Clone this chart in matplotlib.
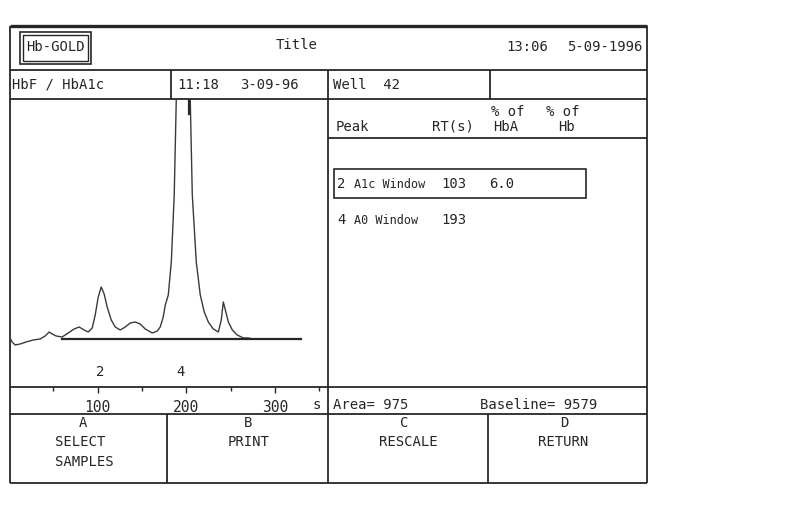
import matplotlib
matplotlib.use('Agg')
import matplotlib.pyplot as plt
from matplotlib.patches import Rectangle

# Chromatogram trace (time in s, signal in screen units above baseline)
time_s = [1, 3.4, 6.8, 12.4, 19.2, 27.1, 35, 40.7, 45.2, 48.6, 53.1, 59.9, 66.7, 73.4,
          79.1, 84.7, 89.3, 93.8, 97.2, 100.6, 104, 107.3, 110.7, 115.3, 119.8, 125.4,
          131.1, 136.7, 142.4, 148, 153.7, 161.6, 167.2, 170.6, 174, 176.3, 179.7, 183.1,
          186.4, 188.7, 196.6, 204.5, 206.8, 211.3, 215.8, 220.3, 224.9, 230.5, 236.2,
          239.5, 241.8, 244.1, 247.5, 252, 257.6, 264.4, 270, 275.7, 283.6]
signal = [1, -3, -6, -5, -3, -1, 0, 3, 7, 5, 3, 2, 6, 10,
          12, 9, 7, 11, 24, 42, 52, 45, 32, 19, 12, 9,
          12, 16, 17, 15, 10, 6, 8, 12, 22, 34, 44, 77,
          144, 239, 560, 239, 144, 77, 44, 27, 17, 10, 7,
          19, 37, 29, 17, 9, 4, 1, 1, 0, 0]

baseline_start, baseline_end = 60, 330
marker_time = 203

peak_numbers = ['2', '4']
peak_names = ['A1c Window', 'A0 Window']
peak_rt = [103, 193]
peak_pct_hba = ['6.0', '']

x_ticks = [100, 200, 300]
x_minor = [50, 150, 250, 350]

area = 975
baseline_value = 9579

W, H = 797, 507
ink = '#262626'
font = 'DejaVu Sans Mono'
fs = 10

fig = plt.figure(figsize=(W / 100, H / 100), dpi=100)
fig.patch.set_facecolor('white')

# overlay in pixel coordinates for the screen frame
bg = fig.add_axes([0, 0, 1, 1])
bg.set_xlim(0, W)
bg.set_ylim(H, 0)
bg.axis('off')

def hline(y, x0, x1, lw=1.3):
    bg.plot([x0, x1], [y, y], color=ink, lw=lw, solid_capstyle='butt')

def vline(x, y0, y1, lw=1.3):
    bg.plot([x, x], [y0, y1], color=ink, lw=lw, solid_capstyle='butt')

def txt(x, y, s, ha='left', size=fs):
    bg.text(x, y, s, ha=ha, va='center', family=font, fontsize=size, color=ink)

L, R, T, B = 10, 647, 26, 483
hline(T, L, R, lw=2.4)
hline(B, L, R)
vline(L, T, B)
vline(R, T, B)
hline(70, L, R)
hline(99, L, R)
hline(387, L, R)
hline(414, L, R)
vline(171, 70, 99)
vline(328, 70, B)
vline(490, 70, 99)
vline(167, 414, B)
vline(488, 414, B)
hline(138, 328, R)

# header
bg.add_patch(Rectangle((20, 32), 71, 32, fill=False, ec=ink, lw=1.2))
bg.add_patch(Rectangle((23, 35), 65, 26, fill=False, ec=ink, lw=1.0))
txt(55.5, 47, 'Hb-GOLD', ha='center')
txt(297, 45, 'Title', ha='center')
txt(506, 47, '13:06')
txt(642, 47, '5-09-1996', ha='right')

# second row
txt(12, 85, 'HbF / HbA1c')
txt(177, 85, '11:18')
txt(240, 85, '3-09-96')
txt(333, 85, 'Well  42')

# peak table
txt(336, 127, 'Peak')
txt(474, 127, 'RT(s)', ha='right')
txt(491, 112, '% of')
txt(493, 127, 'HbA')
txt(546, 112, '% of')
txt(558, 127, 'Hb')
row_y = [184, 220]
for num, name, rt, pct, y in zip(peak_numbers, peak_names, peak_rt, peak_pct_hba, row_y):
    txt(337, y, num)
    txt(354, y, name, size=8.5)
    txt(441, y, str(rt))
    txt(489, y, pct)
bg.add_patch(Rectangle((334, 169), 252, 29, fill=False, ec=ink, lw=1.2))

# bottom info row
txt(313, 405, 's')
txt(333, 405, f'Area= {area}')
txt(480, 405, f'Baseline= {baseline_value}')

# function keys
txt(83, 423, 'A', ha='center')
txt(55, 442, 'SELECT')
txt(55, 462, 'SAMPLES')
txt(248, 423, 'B', ha='center')
txt(249, 442, 'PRINT', ha='center')
txt(404, 423, 'C', ha='center')
txt(408, 442, 'RESCALE', ha='center')
txt(564, 423, 'D', ha='center')
txt(563, 442, 'RETURN', ha='center')

# chromatogram axes
ax = fig.add_axes([10 / W, (H - 387) / H, (328 - 10) / W, (387 - 99) / H])
ax.patch.set_alpha(0)
ax.plot(time_s, signal, color='#3a3a3a', lw=1.0)
ax.plot([baseline_start, baseline_end], [0, 0], color=ink, lw=1.6)
ax.plot([marker_time, marker_time], [225, 240], color=ink, lw=1.6)
for num, rt in zip(peak_numbers, peak_rt):
    ax.text(rt, -33, num, ha='center', va='center', family=font, fontsize=fs, color=ink)
ax.set_xlim(1, 360)
ax.set_ylim(-48, 240)
for sp in ax.spines.values():
    sp.set_visible(False)
ax.set_yticks([])
ax.set_xticks(x_ticks)
ax.set_xticks(x_minor, minor=True)
ax.set_xticklabels([str(t) for t in x_ticks], family=font, fontsize=10.5, color=ink)
ax.tick_params(axis='x', which='major', direction='out', length=4, width=1, color=ink, pad=5)
ax.tick_params(axis='x', which='minor', direction='out', length=3, width=1, color=ink)

fig.savefig('out.png', dpi=100, facecolor='white')
